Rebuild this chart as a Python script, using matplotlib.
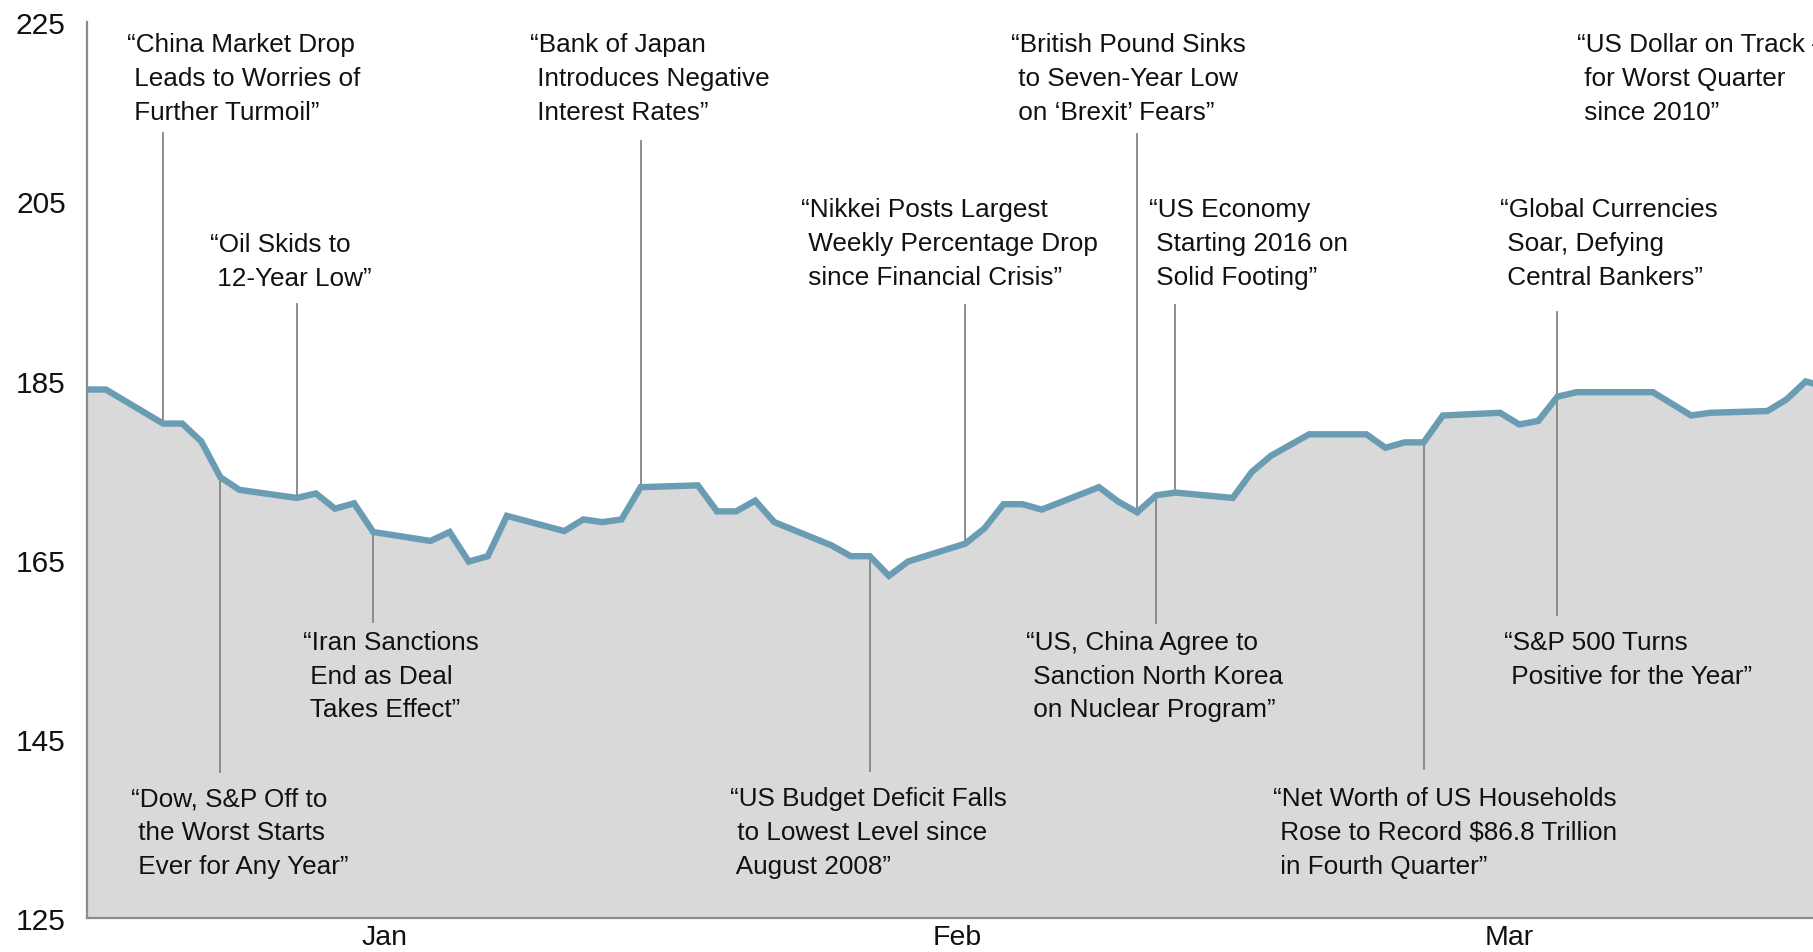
import matplotlib
matplotlib.use("Agg")
import matplotlib.pyplot as plt
import numpy as np

plt.rcParams['font.family'] = ['Liberation Sans', 'DejaVu Sans']

# ---- data: day offset from 31 Dec 2015, index value ----
days = [0, 1, 4, 5, 6, 7, 8, 11, 12, 13, 14, 15, 18, 19, 20, 21, 22,
        25, 26, 27, 28, 29, 32, 33, 34, 35, 36, 39, 40, 41, 42, 43,
        46, 47, 48, 49, 50, 53, 54, 55, 56, 57, 60, 61, 62, 63, 64,
        67, 68, 69, 70, 71, 74, 75, 76, 77, 78, 81, 82, 83, 84, 85,
        88, 89, 90, 91]
values = [184.0, 184.0, 180.2, 180.2, 178.2, 174.2, 172.8, 171.9, 172.4, 170.7, 171.3, 168.1,
          167.1, 168.1, 164.8, 165.4, 169.9,
          168.2, 169.5, 169.2, 169.5, 173.1, 173.3, 170.4, 170.4, 171.6, 169.2,
          166.6, 165.4, 165.4, 163.2, 164.8,
          166.8, 168.5, 171.2, 171.2, 170.6, 173.1, 171.5, 170.3, 172.2, 172.5,
          171.9, 174.8, 176.6, 177.8, 179.0,
          179.0, 177.5, 178.1, 178.1, 181.1, 181.4, 180.1, 180.5, 183.2, 183.7,
          183.7, 183.7, 182.4, 181.1, 181.4,
          181.6, 182.9, 184.9, 184.3]

yticks = [125, 145, 165, 185, 205, 225]
month_labels = ['Jan', 'Feb', 'Mar']
month_pos = [15.6, 45.6, 74.5]

# annotations: event day, end of connector line (value), text, text anchor (day, value)
ann_days = [4, 7, 11, 15, 29, 41, 46, 55, 56, 57, 70, 77, 77]
ann_line_end = [212.6, 141.3, 193.5, 158.0, 211.7, 141.4, 193.4, 212.5, 157.9, 193.4, 141.7, 192.7, 158.8]
ann_text = [
    "\u201cChina Market Drop\n Leads to Worries of\n Further Turmoil\u201d",
    "\u201cDow, S&P Off to\n the Worst Starts\n Ever for Any Year\u201d",
    "\u201cOil Skids to\n 12-Year Low\u201d",
    "\u201cIran Sanctions\n End as Deal\n Takes Effect\u201d",
    "\u201cBank of Japan\n Introduces Negative\n Interest Rates\u201d",
    "\u201cUS Budget Deficit Falls\n to Lowest Level since\n August 2008\u201d",
    "\u201cNikkei Posts Largest\n Weekly Percentage Drop\n since Financial Crisis\u201d",
    "\u201cBritish Pound Sinks\n to Seven-Year Low\n on \u2018Brexit\u2019 Fears\u201d",
    "\u201cUS, China Agree to\n Sanction North Korea\n on Nuclear Program\u201d",
    "\u201cUS Economy\n Starting 2016 on\n Solid Footing\u201d",
    "\u201cNet Worth of US Households\n Rose to Record $86.8 Trillion\n in Fourth Quarter\u201d",
    "\u201cGlobal Currencies\n Soar, Defying\n Central Bankers\u201d",
    "\u201cS&P 500 Turns\n Positive for the Year\u201d",
]
ann_text_x = [2.11, 2.32, 6.46, 11.3, 23.2, 33.7, 37.4, 48.4, 49.2, 55.6, 62.1, 74.0, 74.2]
ann_text_y = [223.9, 139.7, 201.6, 157.2, 223.9, 139.7, 205.5, 223.9, 157.2, 205.5, 139.7, 205.5, 157.2]

extra_text = "\u201cUS Dollar on Track \u2013\n for Worst Quarter\n since 2010\u201d"
extra_pos = (78.0, 223.9)

# ---- figure ----
W, H = 1813, 953
fig = plt.figure(figsize=(W / 100, H / 100), dpi=100)
ax = fig.add_axes([86.7 / W, 1 - 919.2 / H, 1 - 86.7 / W, (919.2 - 23.1) / H])

x = np.array(days, dtype=float)
y = np.array(values)
ax.fill_between(x, y, 125, color='#d9d9d9', linewidth=0, zorder=1)
ax.plot(x, y, color='#6a9db3', linewidth=4.6, solid_joinstyle='miter', zorder=3)

for d, yend in zip(ann_days, ann_line_end):
    yv = np.interp(d, x, y)
    ax.plot([d, d], [yv, yend], color='#858585', linewidth=1.3, zorder=2)

fs = 18.8
ls = 1.52
for t, tx, ty in zip(ann_text, ann_text_x, ann_text_y):
    ax.text(tx, ty, t, fontsize=fs, ha='left', va='top', color='#111111',
            linespacing=ls, zorder=4)
ax.text(extra_pos[0], extra_pos[1], extra_text, fontsize=fs, ha='left', va='top',
        color='#111111', linespacing=ls, zorder=4, clip_on=False)

tfs = 21.5
ax.set_xlim(0, (W - 86.7) / 19.1)
ax.set_ylim(125, 225)
ax.set_yticks(yticks)
ax.set_yticklabels([str(v) for v in yticks], fontsize=tfs, color='#111111')
ax.set_xticks(month_pos)
ax.set_xticklabels(month_labels, fontsize=20.5, color='#111111')
ax.tick_params(axis='y', length=0, pad=15)
ax.tick_params(axis='x', length=0, pad=4)

for s in ['top', 'right']:
    ax.spines[s].set_visible(False)
for s in ['left', 'bottom']:
    ax.spines[s].set_color('#8c8c8c')
    ax.spines[s].set_linewidth(1.6)
    ax.spines[s].set_zorder(5)

fig.savefig('out.png', dpi=100)
